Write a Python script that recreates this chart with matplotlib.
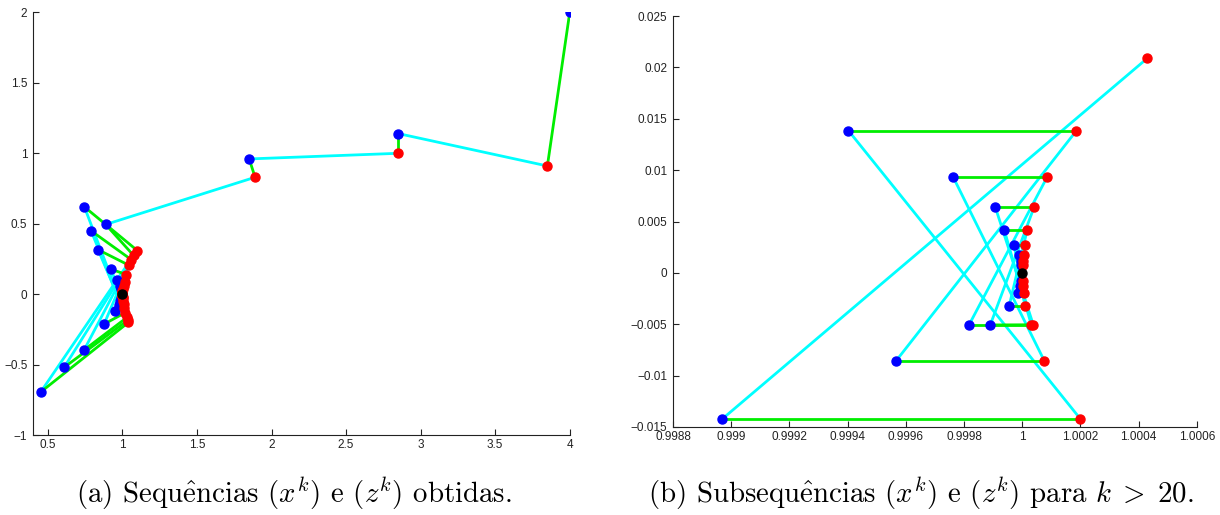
import numpy as np
import matplotlib.pyplot as plt
from matplotlib.ticker import FuncFormatter

plt.rcParams['mathtext.fontset'] = 'cm'

# sequence x^k (blue) and z^k (red), k = 0..36
xk_x = [4.0, 2.85, 1.85, 0.888, 0.452, 0.745, 0.609, 0.79, 0.743, 0.837,
        0.877, 0.926, 0.948, 0.966, 0.975, 0.982, 0.986, 0.99, 0.993, 0.997,
        0.9992, 0.998969, 0.999403, 0.999566, 0.999762, 0.999817, 0.999907,
        0.99989, 0.999938, 0.999955, 0.999972, 0.999986, 0.99999, 0.999993,
        0.999995, 0.999996, 0.999997]
xk_y = [2.0, 1.14, 0.96, 0.495, -0.694, 0.62, -0.519, 0.45, -0.396, 0.316,
        -0.212, 0.177, -0.12, 0.104, -0.075, 0.06, -0.05, 0.04, -0.03, -0.022,
        0.0209, -0.01423, 0.01384, -0.00858, 0.00936, -0.00507, 0.00643,
        -0.00507, 0.00419, -0.00321, 0.00273, -0.00197, 0.00175, -0.00131,
        0.0012, -0.00078, 0.0008]
zk_x = [3.85, 2.85, 1.89, 1.075, 1.04, 1.10, 1.035, 1.06, 1.03, 1.045,
        1.02, 1.025, 1.012, 1.015, 1.008, 1.008, 1.005, 1.004, 1.003, 1.001,
        1.00043, 1.0002, 1.000186, 1.000076, 1.000086, 1.000038, 1.000041,
        1.000031, 1.000017, 1.000009, 1.00001, 1.000007, 1.000006, 1.000004,
        1.000004, 1.000003, 1.000003]
zk_y = [0.91, 1.0, 0.83, 0.275, -0.2, 0.31, -0.185, 0.245, -0.165, 0.205,
        -0.13, 0.14, -0.095, 0.09, -0.07, 0.06, -0.05, 0.04, -0.03, -0.02,
        0.0209, -0.01423, 0.01384, -0.00858, 0.00936, -0.00507, 0.00643,
        -0.00505, 0.00419, -0.00321, 0.00273, -0.00197, 0.00175, -0.00131,
        0.0012, -0.00078, 0.0008]
limit_pt = (1.0, 0.0)

left_xticks = [0.5, 1, 1.5, 2, 2.5, 3, 3.5, 4]
left_yticks = [-1, -0.5, 0, 0.5, 1, 1.5, 2]
right_xticks = [0.9988, 0.999, 0.9992, 0.9994, 0.9996, 0.9998, 1, 1.0002, 1.0004, 1.0006]
right_yticks = [-0.015, -0.01, -0.005, 0, 0.005, 0.01, 0.015, 0.02, 0.025]

# cmr10 has no proper ê, so the accent goes through mathtext
caption_a = r'(a) Sequ$\hat{\mathrm{e}}$ncias $(x^k)$ e $(z^k)$ obtidas.'
caption_b = r'(b) Subsequ$\hat{\mathrm{e}}$ncias $(x^k)$ e $(z^k)$ para $k\;>\;20$.'


def draw_seq(ax, xs, ys, zs, zys, k0):
    # green: x^k -> z^k, cyan: z^k -> x^(k+1)
    n = len(xs)
    for k in range(k0, n - 1):
        ax.plot([zs[k], xs[k + 1]], [zys[k], ys[k + 1]], color='#00ffff', lw=2, zorder=2)
    for k in range(k0, n):
        if k > k0 or k0 == 0:
            ax.plot([xs[k], zs[k]], [ys[k], zys[k]], color='#00ee00', lw=2, zorder=3)
    start = k0 + 1 if k0 > 0 else 0
    ax.plot(xs[start:], ys[start:], 'o', color='#0000ff', ms=6.5, zorder=4)
    ax.plot(zs[k0:], zys[k0:], 'o', color='#ff0000', ms=6.5, zorder=5)
    ax.plot(*limit_pt, 'o', color='black', ms=6.5, zorder=6)


def fmt(v, pos):
    return f'{v:g}'.replace('-', '\u2212')


def style(ax):
    for s in ['top', 'right']:
        ax.spines[s].set_visible(False)
    for s in ['left', 'bottom']:
        ax.spines[s].set_color('#222222')
    ax.tick_params(direction='in', length=4, labelsize=8.5, colors='#222222')
    ax.tick_params(axis='x', pad=3)
    ax.tick_params(axis='y', pad=4)
    ax.xaxis.set_major_formatter(FuncFormatter(fmt))
    ax.yaxis.set_major_formatter(FuncFormatter(fmt))


plt.rcParams['font.family'] = ['Liberation Sans', 'DejaVu Sans']

fig = plt.figure(figsize=(12.2, 5.15), dpi=100)

ax1 = fig.add_axes([0.027, 0.155, 0.440, 0.821])
draw_seq(ax1, xk_x, xk_y, zk_x, zk_y, 0)
ax1.set_xlim(0.4, 4)
ax1.set_ylim(-1, 2)
ax1.set_xticks(left_xticks)
ax1.set_yticks(left_yticks)
style(ax1)

ax2 = fig.add_axes([0.5516, 0.1709, 0.4295, 0.798])
draw_seq(ax2, xk_x, xk_y, zk_x, zk_y, 20)
ax2.set_xlim(0.9988, 1.0006)
ax2.set_ylim(-0.015, 0.025)
ax2.set_xticks(right_xticks)
ax2.set_yticks(right_yticks)
style(ax2)

fig.text(294 / 1220, 1 - 503 / 515, caption_a, ha='center', va='baseline',
         fontsize=20.8, family=['cmr10', 'DejaVu Serif'])
fig.text(921 / 1220, 1 - 503 / 515, caption_b, ha='center', va='baseline',
         fontsize=20.8, family=['cmr10', 'DejaVu Serif'])

fig.savefig('out.png', dpi=100)
